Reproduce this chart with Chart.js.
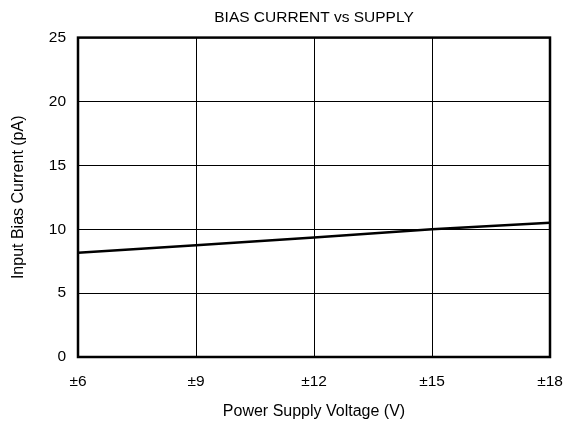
<!DOCTYPE html>
<html>
<head>
<meta charset="utf-8">
<script src="https://cdn.jsdelivr.net/npm/chart.js@4"></script>
<style>
  html, body { margin: 0; padding: 0; background: #fff; }
  #wrap { width: 573px; height: 423px; }
</style>
</head>
<body>
<div id="wrap"><canvas id="chart" width="573" height="423"></canvas></div>
<script>
// Valores
const supplyV = [6, 9, 12, 15, 18];
const biasPA = [8.15, 8.75, 9.35, 10.0, 10.5];
const yTicks = [0, 5, 10, 15, 20, 25];

const FONT = "'Liberation Sans', Arial, sans-serif";

// moldura preta em volta da área do gráfico
const frame = {
  id: 'frame',
  afterDraw(chart) {
    const a = chart.chartArea, ctx = chart.ctx;
    ctx.save();
    ctx.strokeStyle = '#000';
    ctx.lineWidth = 2.5;
    ctx.strokeRect(a.left, a.top, a.right - a.left, a.bottom - a.top);
    ctx.restore();
  }
};

new Chart(document.getElementById('chart'), {
  type: 'line',
  data: {
    datasets: [{
      data: supplyV.map((v, i) => ({ x: v, y: biasPA[i] })),
      borderColor: '#000',
      borderWidth: 2.5,
      pointRadius: 0,
      tension: 0
    }]
  },
  options: {
    responsive: false,
    animation: false,
    layout: { padding: { left: 0, right: 23, top: 0, bottom: 0 } },
    plugins: {
      legend: { display: false },
      tooltip: { enabled: false },
      title: {
        display: true,
        fullSize: false,
        text: 'BIAS CURRENT vs SUPPLY',
        color: '#000',
        font: { family: FONT, size: 15.5, weight: 'normal' },
        padding: { top: 8, bottom: 11 }
      }
    },
    scales: {
      x: {
        type: 'linear',
        min: 6, max: 18,
        afterFit(s) { s.height = 66; s.paddingLeft = 0; s.paddingRight = 0; },
        ticks: {
          stepSize: 3,
          color: '#000',
          padding: 15,
          maxRotation: 0,
          font: { family: FONT, size: 15.5 },
          callback: v => '±' + v
        },
        grid: { color: '#000', lineWidth: 1, drawTicks: false },
        border: { display: false },
        title: {
          display: true,
          text: 'Power Supply Voltage (V)',
          color: '#000',
          font: { family: FONT, size: 16 },
          padding: { top: 0, bottom: 2 }
        }
      },
      y: {
        min: 0, max: 25,
        afterFit(s) { s.width = 78; },
        afterBuildTicks(s) { s.ticks = yTicks.map(v => ({ value: v })); },
        ticks: {
          color: '#000',
          padding: 12,
          font: { family: FONT, size: 15.5 }
        },
        grid: { color: '#000', lineWidth: 1, drawTicks: false },
        border: { display: false },
        title: {
          display: true,
          text: 'Input Bias Current (pA)',
          color: '#000',
          font: { family: FONT, size: 16 },
          padding: { top: 9, bottom: 0 }
        }
      }
    }
  },
  plugins: [frame]
});
</script>
</body>
</html>
